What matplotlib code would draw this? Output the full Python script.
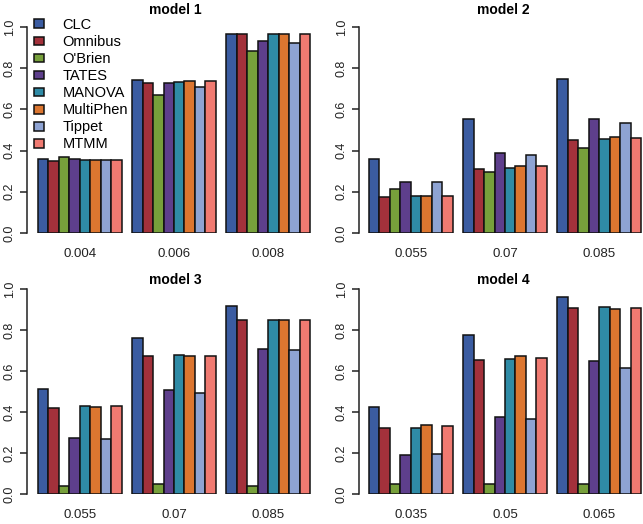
import numpy as np
import matplotlib
matplotlib.use("Agg")
import matplotlib.pyplot as plt

plt.rcParams['font.family'] = ['Liberation Sans', 'DejaVu Sans']

methods = ["CLC", "Omnibus", "O'Brien", "TATES", "MANOVA", "MultiPhen", "Tippet", "MTMM"]
colors = ["#3B5CA1", "#A3313B", "#77A03B", "#5E3F8C", "#2F8BA6", "#DC7630", "#8EA3D3", "#F07A71"]

titles = ["model 1", "model 2", "model 3", "model 4"]
group_labels = [
    ["0.004", "0.006", "0.008"],
    ["0.055", "0.07", "0.085"],
    ["0.055", "0.07", "0.085"],
    ["0.035", "0.05", "0.065"],
]

# power[model][group] -> 8 method values
power = [
    [[0.360, 0.349, 0.371, 0.358, 0.354, 0.354, 0.355, 0.354],
     [0.744, 0.730, 0.668, 0.728, 0.734, 0.739, 0.707, 0.736],
     [0.965, 0.964, 0.885, 0.930, 0.964, 0.964, 0.920, 0.964]],
    [[0.360, 0.177, 0.214, 0.246, 0.182, 0.182, 0.246, 0.182],
     [0.554, 0.311, 0.295, 0.387, 0.316, 0.326, 0.379, 0.323],
     [0.746, 0.452, 0.415, 0.554, 0.455, 0.465, 0.535, 0.462]],
    [[0.512, 0.421, 0.039, 0.271, 0.428, 0.423, 0.266, 0.428],
     [0.763, 0.674, 0.049, 0.509, 0.676, 0.671, 0.494, 0.674],
     [0.917, 0.851, 0.039, 0.708, 0.851, 0.851, 0.703, 0.851]],
    [[0.425, 0.324, 0.049, 0.190, 0.324, 0.335, 0.193, 0.332],
     [0.776, 0.655, 0.049, 0.376, 0.660, 0.671, 0.368, 0.665],
     [0.959, 0.908, 0.049, 0.648, 0.914, 0.904, 0.614, 0.908]],
]

W, H = 643, 524
fig = plt.figure(figsize=(W / 100, H / 100), dpi=100)

# panel layout in pixels: (axis x, first bar x, right edge x, y of 1.0, y of 0.0, title y)
panels = [
    (27, 38, 320, 27, 233, 10),
    (359, 369, 643, 27, 233, 10),
    (27, 38, 320, 289, 494, 280),
    (359, 369, 643, 289, 494, 280),
]
scale = 10.46  # px per bar

for k, (xa, xb, xr, ytop, ybot, ty) in enumerate(panels):
    ax = fig.add_axes([xa / W, 1 - ybot / H, (xr - xa) / W, (ybot - ytop) / H])
    lo = 1 - (xb - xa) / scale
    hi = lo + (xr - xa) / scale
    ax.set_xlim(lo, hi)
    ax.set_ylim(0, 1)
    for g in range(3):
        left = 1 + 9 * g + np.arange(8)
        ax.bar(left, power[k][g], width=1, align='edge', color=colors,
               edgecolor='#111111', linewidth=1.1)
    centers = [1 + 9 * g + 4 for g in range(3)]
    ax.set_xticks(centers)
    ax.set_xticklabels(group_labels[k], fontsize=9.5, color='#222222')
    ax.tick_params(axis='x', length=0, pad=11)
    ax.set_yticks([0, 0.2, 0.4, 0.6, 0.8, 1.0])
    ax.set_yticklabels(["0.0", "0.2", "0.4", "0.6", "0.8", "1.0"], rotation=90,
                       va='center', fontsize=9, color='#222222')
    ax.tick_params(axis='y', length=5, width=1.1, pad=3, color='#222222')
    for s in ['top', 'right', 'bottom']:
        ax.spines[s].set_visible(False)
    ax.spines['left'].set_bounds(0, 1)
    ax.spines['left'].set_color('#222222')
    ax.spines['left'].set_linewidth(1.1)
    ax.patch.set_alpha(0)
    fig.text((xa + xr) / 2 / W + 0.003, 1 - ty / H, titles[k], ha='center', va='center',
             fontsize=10, fontweight='bold')

    if k == 0:
        handles = [plt.Rectangle((0, 0), 1, 1, facecolor=c, edgecolor='#111111', linewidth=1.1)
                   for c in colors]
        fig.legend(handles, methods, loc='upper left',
                   bbox_to_anchor=(34 / W, 1 - 18 / H), frameon=False,
                   fontsize=10.5, handlelength=0.7, handleheight=0.55,
                   handletextpad=1.25, labelspacing=0.21, borderpad=0,
                   borderaxespad=0)

fig.savefig("out.png", dpi=100)
